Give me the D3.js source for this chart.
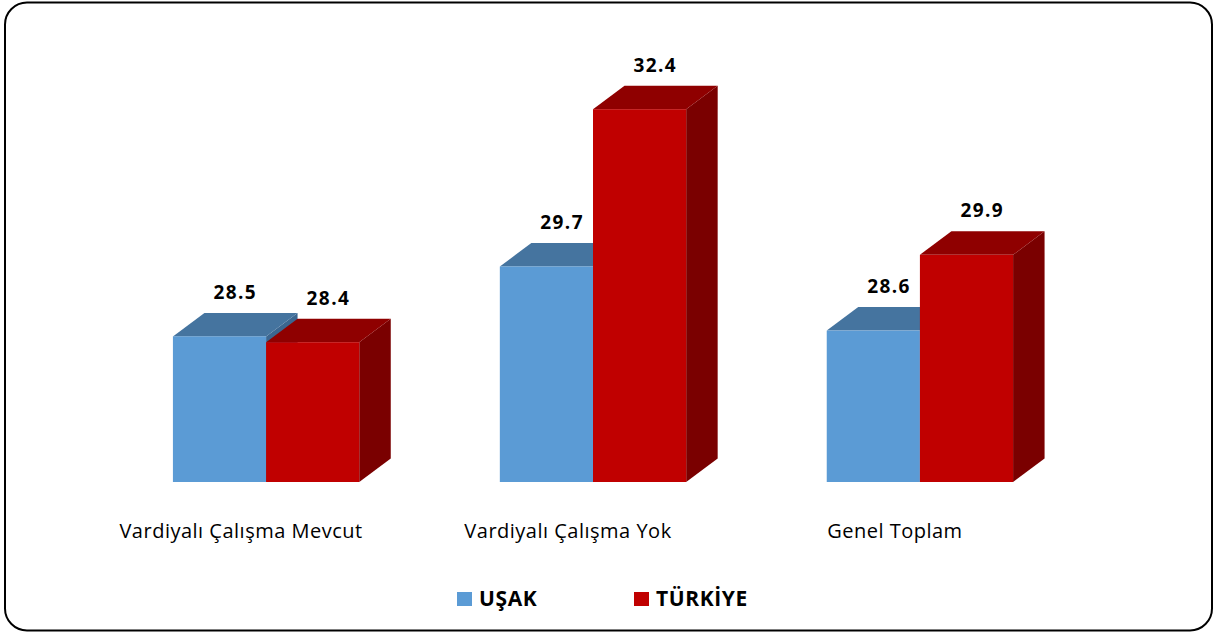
<!DOCTYPE html>
<html>
<head>
<meta charset="utf-8">
<script src="https://cdn.jsdelivr.net/npm/d3@7"></script>
<style>
  html, body { margin: 0; padding: 0; background: #fff; }
  svg { display: block; }
</style>
</head>
<body>
<svg id="chart"></svg>
<script>
// data
const categories = ["Vardiyalı Çalışma Mevcut", "Vardiyalı Çalışma Yok", "Genel Toplam"];
const seriesNames = ["UŞAK", "TÜRKİYE"];
const usakValues = [28.5, 29.7, 28.6];
const turkiyeValues = [28.4, 32.4, 29.9];

const width = 1215, height = 634;
const depthX = 31.5, depthY = -23.5;

const colors = {
  "UŞAK": { front: "#5B9BD5", top: "#45749f", side: "#3b6690" },
  "TÜRKİYE": { front: "#C00000", top: "#8f0000", side: "#7a0000" }
};

const rows = categories.map((c, i) => ({
  category: c,
  "UŞAK": usakValues[i],
  "TÜRKİYE": turkiyeValues[i]
}));

const svg = d3.select("#chart")
  .attr("width", width)
  .attr("height", height);

// outer frame
svg.append("rect")
  .attr("x", 5)
  .attr("y", 2.5)
  .attr("width", 1207)
  .attr("height", 628)
  .attr("rx", 22)
  .attr("ry", 22)
  .attr("fill", "#fff")
  .attr("stroke", "#000")
  .attr("stroke-width", 2);

const x0 = d3.scaleBand()
  .domain(categories)
  .range([101, 1085])
  .paddingInner(0.43)
  .paddingOuter(0.22);

const x1 = d3.scaleBand()
  .domain(seriesNames)
  .range([0, x0.bandwidth()]);

const y = d3.scaleLinear()
  .domain([26, 34])
  .range([482, 16]);

const base = y(26);

// bars with 3D faces
const groups = svg.append("g")
  .selectAll(".group")
  .data(rows)
  .enter()
  .append("g")
  .attr("class", "group")
  .attr("transform", (d) => `translate(${x0(d.category)},0)`);

const bars = groups.selectAll(".bar")
  .data((d) => seriesNames.map((s) => ({ key: s, value: d[s] })))
  .enter()
  .append("g")
  .attr("class", "bar");

bars.append("polygon")
  .attr("points", (d) => {
    const xl = x1(d.key), xr = xl + x1.bandwidth(), yt = y(d.value);
    return [[xr, yt], [xr + depthX, yt + depthY], [xr + depthX, base + depthY], [xr, base]].join(" ");
  })
  .attr("fill", (d) => colors[d.key].side);

bars.append("polygon")
  .attr("points", (d) => {
    const xl = x1(d.key), xr = xl + x1.bandwidth(), yt = y(d.value);
    return [[xl, yt], [xl + depthX, yt + depthY], [xr + depthX, yt + depthY], [xr, yt]].join(" ");
  })
  .attr("fill", (d) => colors[d.key].top);

bars.append("rect")
  .attr("x", (d) => x1(d.key))
  .attr("y", (d) => y(d.value))
  .attr("width", x1.bandwidth())
  .attr("height", (d) => base - y(d.value))
  .attr("fill", (d) => colors[d.key].front);

// value labels
bars.append("text")
  .attr("x", (d) => x1(d.key) + x1.bandwidth() / 2 + depthX / 2)
  .attr("y", (d) => y(d.value) + depthY - 14)
  .attr("text-anchor", "middle")
  .style("font-family", "'Open Sans', sans-serif")
  .style("font-weight", "bold")
  .style("font-size", "19px")
  .style("letter-spacing", "1.4px")
  .style("fill", "#000")
  .text((d) => d.value.toFixed(1));

// category labels
svg.append("g")
  .selectAll(".cat")
  .data(categories)
  .enter()
  .append("text")
  .attr("x", (d) => x0(d) + x0.bandwidth() / 2 - 25)
  .attr("y", 538)
  .attr("text-anchor", "middle")
  .style("font-family", "'Open Sans', sans-serif")
  .style("font-size", "20px")
  .style("letter-spacing", "0.5px")
  .style("fill", "#000")
  .text((d) => d);

// legend
const legendX = [457, 634];
const legend = svg.append("g");

legend.selectAll("rect")
  .data(seriesNames)
  .enter()
  .append("rect")
  .attr("x", (d, i) => legendX[i])
  .attr("y", 592)
  .attr("width", 15)
  .attr("height", 14)
  .style("fill", (d) => colors[d].front);

legend.selectAll("text")
  .data(seriesNames)
  .enter()
  .append("text")
  .attr("x", (d, i) => legendX[i] + 22)
  .attr("y", 606)
  .style("font-family", "'Open Sans', sans-serif")
  .style("font-weight", "bold")
  .style("font-size", "21px")
  .style("letter-spacing", "0.6px")
  .style("fill", "#000")
  .text((d) => d);
</script>
</body>
</html>
